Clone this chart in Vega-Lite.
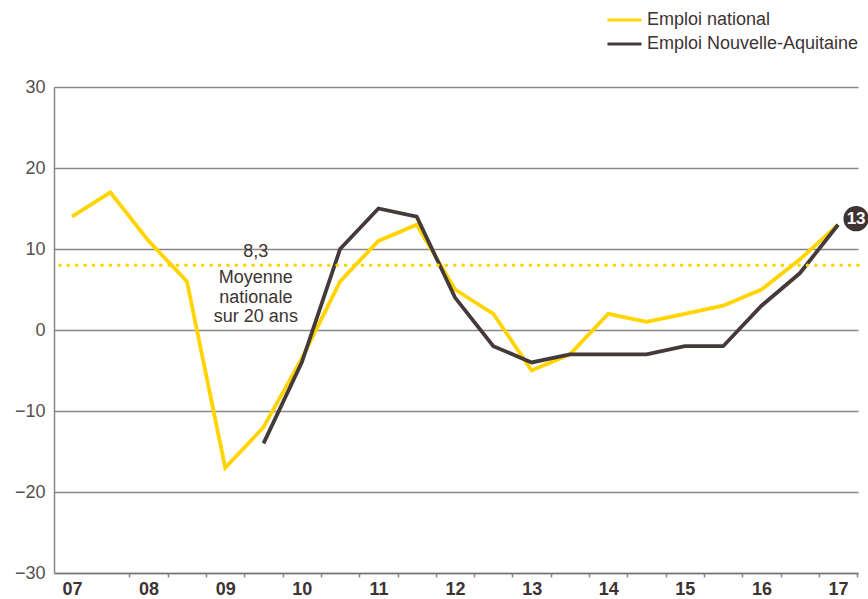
{
  "$schema": "https://vega.github.io/schema/vega-lite/v6.json",
  "width": 804,
  "height": 486,
  "autosize": {"type": "none"},
  "padding": {"left": 54, "top": 87, "right": 10, "bottom": 26},
  "background": "white",
  "config": {
    "view": {"stroke": null},
    "font": "Liberation Sans",
    "axis": {"domainColor": "#8b8585", "gridColor": "#8b8585", "domainWidth": 1.5, "gridWidth": 1.5}
  },
  "resolve": {"axis": {"x": "independent"}},
  "datasets": {
    "series": [
      {"t": 2007.0, "s": "Emploi national", "v": 14},
      {"t": 2007.5, "s": "Emploi national", "v": 17},
      {"t": 2008.0, "s": "Emploi national", "v": 11},
      {"t": 2008.5, "s": "Emploi national", "v": 6},
      {"t": 2009.0, "s": "Emploi national", "v": -17},
      {"t": 2009.5, "s": "Emploi national", "v": -12},
      {"t": 2010.0, "s": "Emploi national", "v": -3.5},
      {"t": 2010.5, "s": "Emploi national", "v": 6},
      {"t": 2011.0, "s": "Emploi national", "v": 11},
      {"t": 2011.5, "s": "Emploi national", "v": 13},
      {"t": 2012.0, "s": "Emploi national", "v": 5},
      {"t": 2012.5, "s": "Emploi national", "v": 2},
      {"t": 2013.0, "s": "Emploi national", "v": -5},
      {"t": 2013.5, "s": "Emploi national", "v": -3},
      {"t": 2014.0, "s": "Emploi national", "v": 2},
      {"t": 2014.5, "s": "Emploi national", "v": 1},
      {"t": 2015.0, "s": "Emploi national", "v": 2},
      {"t": 2015.5, "s": "Emploi national", "v": 3},
      {"t": 2016.0, "s": "Emploi national", "v": 5},
      {"t": 2016.5, "s": "Emploi national", "v": 8.7},
      {"t": 2017.0, "s": "Emploi national", "v": 13},
      {"t": 2009.5, "s": "Emploi Nouvelle-Aquitaine", "v": -14},
      {"t": 2010.0, "s": "Emploi Nouvelle-Aquitaine", "v": -4},
      {"t": 2010.5, "s": "Emploi Nouvelle-Aquitaine", "v": 10},
      {"t": 2011.0, "s": "Emploi Nouvelle-Aquitaine", "v": 15},
      {"t": 2011.5, "s": "Emploi Nouvelle-Aquitaine", "v": 14},
      {"t": 2012.0, "s": "Emploi Nouvelle-Aquitaine", "v": 4},
      {"t": 2012.5, "s": "Emploi Nouvelle-Aquitaine", "v": -2},
      {"t": 2013.0, "s": "Emploi Nouvelle-Aquitaine", "v": -4},
      {"t": 2013.5, "s": "Emploi Nouvelle-Aquitaine", "v": -3},
      {"t": 2014.0, "s": "Emploi Nouvelle-Aquitaine", "v": -3},
      {"t": 2014.5, "s": "Emploi Nouvelle-Aquitaine", "v": -3},
      {"t": 2015.0, "s": "Emploi Nouvelle-Aquitaine", "v": -2},
      {"t": 2015.5, "s": "Emploi Nouvelle-Aquitaine", "v": -2},
      {"t": 2016.0, "s": "Emploi Nouvelle-Aquitaine", "v": 3},
      {"t": 2016.5, "s": "Emploi Nouvelle-Aquitaine", "v": 7},
      {"t": 2017.0, "s": "Emploi Nouvelle-Aquitaine", "v": 13}
    ]
  },
  "layer": [
    {
      "data": {"name": "series"},
      "mark": {"type": "line", "strokeWidth": 3.8, "strokeJoin": "miter"},
      "encoding": {
        "x": {
          "field": "t", "type": "quantitative",
          "scale": {"domain": [2006.765, 2017.26], "nice": false, "zero": false},
          "axis": {
            "title": null, "grid": false, "orient": "bottom",
            "values": [2007, 2008, 2009, 2010, 2011, 2012, 2013, 2014, 2015, 2016, 2017],
            "labelExpr": "slice(toString(datum.value), 2)",
            "labelFontWeight": "bold", "labelFontSize": 18, "labelColor": "#3d3333",
            "labelPadding": 7, "labelOverlap": false, "labelFlush": false,
            "ticks": false, "domainColor": "#7a7373"
          }
        },
        "y": {
          "field": "v", "type": "quantitative",
          "scale": {"domain": [-30, 30], "nice": false},
          "axis": {
            "title": null, "values": [-30, -20, -10, 0, 10, 20, 30],
            "ticks": false, "labelPadding": 9, "labelFontSize": 18, "labelColor": "#555050",
            "gridColor": "#8b8585"
          }
        },
        "color": {
          "field": "s", "type": "nominal",
          "scale": {"domain": ["Emploi national", "Emploi Nouvelle-Aquitaine"], "range": ["#FFD400", "#453a3a"]},
          "legend": {
            "title": null, "orient": "none", "legendX": 552, "legendY": -76,
            "symbolType": "stroke", "symbolSize": 1156, "symbolStrokeWidth": 3,
            "labelFontSize": 18, "labelColor": "#3d3333", "labelOffset": 4, "labelLimit": 400,
            "clipHeight": 18, "rowPadding": 6, "padding": 0
          }
        }
      }
    },
    {
      "data": {"values": [{"v": 8}]},
      "mark": {"type": "rule", "color": "#FFD400", "strokeWidth": 3.6, "strokeDash": [0.1, 8.3], "strokeCap": "round"},
      "encoding": {"y": {"field": "v", "type": "quantitative"}}
    },
    {
      "data": {"values": [{"t": 2009.4, "v": 9.05, "label": "8,3"}]},
      "mark": {"type": "text", "fontSize": 18, "color": "#3d3333", "align": "center", "baseline": "alphabetic"},
      "encoding": {
        "x": {
          "field": "t", "type": "quantitative",
          "scale": {"domain": [2006.765, 2017.26], "nice": false, "zero": false},
          "axis": {
            "title": null, "grid": false, "orient": "bottom", "labels": false, "domain": false,
            "values": [2007.75, 2008.25, 2008.75, 2009.25, 2009.75, 2010.25, 2010.75, 2011.25, 2011.75, 2012.25, 2012.75, 2013.25, 2013.75, 2014.25, 2014.75, 2015.25, 2015.75, 2016.25, 2016.75, 2017.25],
            "tickSize": 4, "tickWidth": 1.5, "tickColor": "#8b8585"
          }
        },
        "y": {"field": "v", "type": "quantitative"},
        "text": {"field": "label"}
      }
    },
    {
      "data": {"values": [{"t": 2009.4, "v": 5.8, "label": ["Moyenne", "nationale", "sur 20 ans"]}]},
      "mark": {"type": "text", "fontSize": 18, "color": "#3d3333", "align": "center", "baseline": "alphabetic", "lineHeight": 19.5},
      "encoding": {
        "x": {"field": "t", "type": "quantitative", "axis": null},
        "y": {"field": "v", "type": "quantitative"},
        "text": {"field": "label"}
      }
    },
    {
      "data": {"values": [{"t": 2017, "v": 13, "label": "13"}]},
      "mark": {"type": "point", "filled": true, "opacity": 1, "color": "#3f3434", "size": 640, "xOffset": 18, "yOffset": -6, "clip": false},
      "encoding": {
        "x": {"field": "t", "type": "quantitative", "axis": null},
        "y": {"field": "v", "type": "quantitative"}
      }
    },
    {
      "data": {"values": [{"t": 2017, "v": 13, "label": "13"}]},
      "mark": {"type": "text", "fontSize": 17, "fontWeight": "bold", "color": "white", "align": "center", "baseline": "middle", "xOffset": 18, "yOffset": -6},
      "encoding": {
        "x": {"field": "t", "type": "quantitative", "axis": null},
        "y": {"field": "v", "type": "quantitative"},
        "text": {"field": "label"}
      }
    }
  ]
}
